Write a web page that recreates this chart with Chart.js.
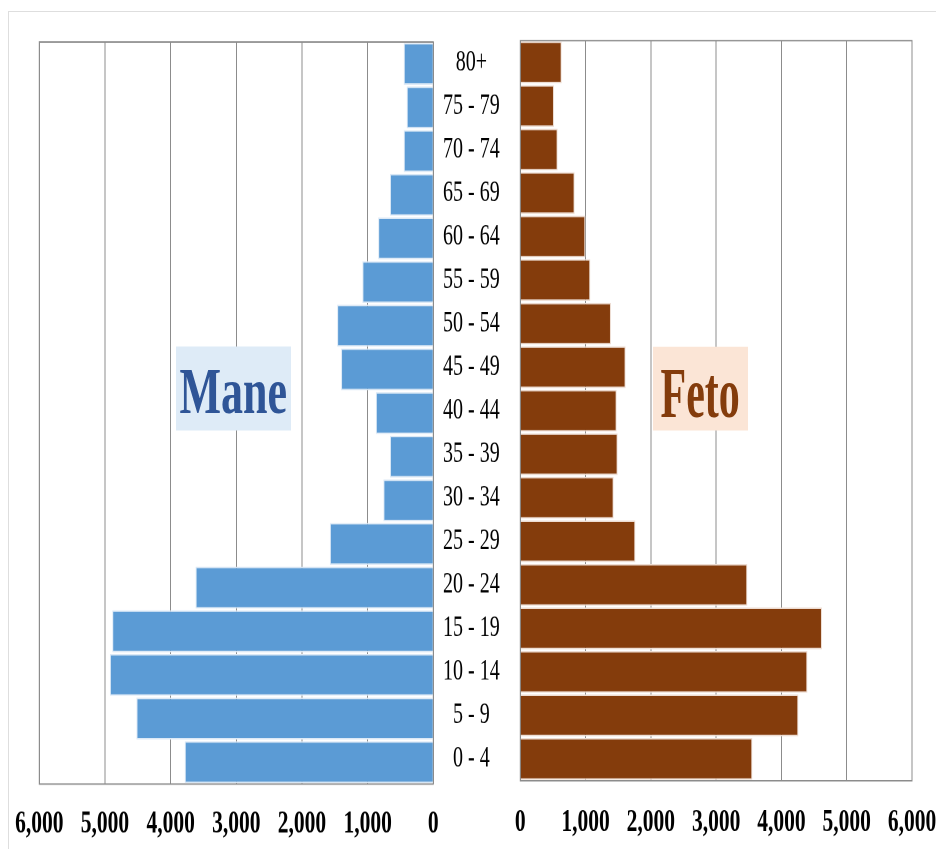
<!DOCTYPE html>
<html>
<head>
<meta charset="utf-8">
<script src="https://cdn.jsdelivr.net/npm/chart.js@4.4.1/dist/chart.umd.min.js"></script>
<style>
html,body{margin:0;padding:0;background:#fff;overflow:hidden;width:936px;height:849px;}
#outer{position:absolute;left:8px;top:11px;width:1000px;height:1000px;border:1px solid #dedede;}
#stage{position:absolute;left:0;top:0;width:936px;height:566px;transform:scaleY(1.5);transform-origin:0 0;}
#cL{position:absolute;left:0;top:0;}
#cR{position:absolute;left:436px;top:0;}
.box{position:absolute;}
.lbl{position:absolute;left:0;width:100%;text-align:center;font-family:'Liberation Serif','Times New Roman',serif;font-weight:bold;white-space:nowrap;}
</style>
</head>
<body>
<div id="outer"></div>
<div id="stage">
  <canvas id="cL" width="440" height="566"></canvas>
  <canvas id="cR" width="540" height="566"></canvas>
  <div class="box" style="left:175.7px;top:230.7px;width:115px;height:56.4px;background:#DEEBF7;">
    <div class="lbl" style="top:6.1px;font-size:44px;line-height:48.7px;color:#2F5597;">Mane</div>
  </div>
  <div class="box" style="left:652.7px;top:230.7px;width:95px;height:56.6px;background:#FBE5D6;">
    <div class="lbl" style="top:10.1px;font-size:42px;line-height:46.5px;color:#843C0C;transform:scaleY(1.14);transform-origin:50% 37.4px;">Feto</div>
  </div>
</div>
<script>
// Age groups, top to bottom
const ageGroups = ['80+','75 - 79','70 - 74','65 - 69','60 - 64','55 - 59','50 - 54','45 - 49','40 - 44','35 - 39','30 - 34','25 - 29','20 - 24','15 - 19','10 - 14','5 - 9','0 - 4'];
// Mane (males)
const mane = [450, 405, 450, 660, 840, 1080, 1465, 1405, 875, 660, 760, 1575, 3620, 4890, 4925, 4520, 3785];
// Feto (females)
const feto = [634, 516, 572, 832, 996, 1072, 1389, 1613, 1476, 1491, 1430, 1762, 3477, 4621, 4397, 4259, 3554];
// Axis tick values
const xTickValues = [0, 1000, 2000, 3000, 4000, 5000, 6000];

const framePlugin = {
  id: 'frame',
  beforeDatasetsDraw(chart, args, opts) {
    const {ctx, chartArea: a} = chart;
    ctx.save();
    ctx.strokeStyle = opts.color || '#8c8c8c';
    ctx.lineWidth = 1;
    ctx.strokeRect(a.left, a.top, a.right - a.left, a.bottom - a.top);
    ctx.restore();
  }
};

const tickFont = {family: "'Liberation Serif','Times New Roman',serif", size: 21.5, weight: 'bold'};
const catFont = {family: "'Liberation Serif','Times New Roman',serif", size: 20};
const gridColor = '#8c8c8c';

function xAxis(reverse, axisHeight, pad) {
  return {
    type: 'linear', min: 0, max: 6000, reverse: reverse,
    afterBuildTicks: s => { s.ticks = xTickValues.map(v => ({value: v})); },
    afterFit: s => { s.height = axisHeight; },
    grid: {color: gridColor, lineWidth: 1, drawTicks: false},
    border: {display: false},
    ticks: {padding: pad, color: '#000', font: tickFont, maxRotation: 0, autoSkip: false,
            callback: v => Number(v).toLocaleString('en-US')}
  };
}

new Chart(document.getElementById('cL'), {
  type: 'bar',
  data: {
    labels: ageGroups,
    datasets: [{label: 'Mane', data: mane, backgroundColor: '#5B9BD5', borderColor: '#dce9f6',
                borderWidth: 1, barPercentage: 0.96, categoryPercentage: 1}]
  },
  options: {
    indexAxis: 'y', responsive: false, animation: false, devicePixelRatio: 2,
    layout: {padding: {left: 39.3, right: 6.7, top: 28, bottom: 0}},
    plugins: {legend: {display: false}, tooltip: {enabled: false}, frame: {color: gridColor}},
    scales: {
      x: xAxis(true, 43.3, 14.1),
      y: {display: false}
    }
  },
  plugins: [framePlugin]
});

new Chart(document.getElementById('cR'), {
  type: 'bar',
  data: {
    labels: ageGroups,
    datasets: [{label: 'Feto', data: feto, backgroundColor: '#843C0C', borderColor: '#eddcd2',
                borderWidth: 1, barPercentage: 0.96, categoryPercentage: 1}]
  },
  options: {
    indexAxis: 'y', responsive: false, animation: false, devicePixelRatio: 2,
    layout: {padding: {left: 0, right: 64, top: 27.1, bottom: 0}},
    plugins: {legend: {display: false}, tooltip: {enabled: false}, frame: {color: gridColor}},
    scales: {
      x: xAxis(false, 45.5, 14.9),
      y: {
        position: 'left',
        afterFit: s => { s.width = 84.3; },
        grid: {display: false}, border: {display: false},
        ticks: {padding: 12.6, crossAlign: 'center', color: '#000', font: catFont, autoSkip: false}
      }
    }
  },
  plugins: [framePlugin]
});
</script>
</body>
</html>
